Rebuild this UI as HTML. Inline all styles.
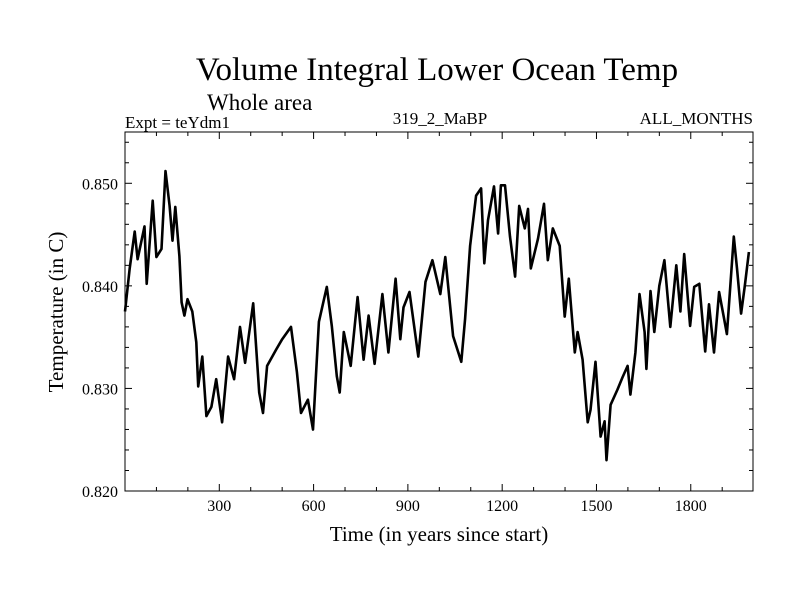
<!DOCTYPE html>
<html><head><meta charset="utf-8"><style>
body{margin:0;background:#fff;}
svg{display:block;font-family:"Liberation Serif",serif;}
</style></head><body>
<svg id="chart" width="800" height="600">
<text x="437" y="80" font-size="33" text-anchor="middle">Volume Integral Lower Ocean Temp</text>
<text x="207" y="110" font-size="23">Whole area</text>
<text x="125" y="128" font-size="17">Expt = teYdm1</text>
<text x="440" y="124" font-size="17" text-anchor="middle">319_2_MaBP</text>
<text x="753" y="124" font-size="17" text-anchor="end">ALL_MONTHS</text>
<text x="439" y="541" font-size="21" text-anchor="middle">Time (in years since start)</text>
<text transform="translate(63,312) rotate(-90)" font-size="21" text-anchor="middle">Temperature (in C)</text>
<g id="plot"></g>
</svg>
<script>
const years=[0,15,31,40,62,69,88,100,116,129,142,151,160,173,180,189,199,214,227,233,246,259,275,290,309,328,347,366,382,408,427,439,452,481,500,528,547,560,582,598,617,642,658,674,683,696,718,740,759,775,794,819,838,861,876,886,905,933,956,978,1003,1019,1044,1070,1082,1098,1117,1133,1143,1155,1174,1187,1196,1209,1225,1241,1254,1272,1282,1291,1314,1333,1345,1361,1383,1399,1412,1418,1431,1440,1456,1472,1481,1497,1513,1526,1532,1545,1567,1583,1599,1608,1624,1637,1653,1659,1672,1684,1700,1716,1735,1754,1767,1779,1798,1811,1827,1846,1858,1874,1890,1906,1915,1937,1947,1960,1972,1985];
const temps=[0.8375,0.8417,0.8453,0.8426,0.8458,0.8402,0.8483,0.8428,0.8436,0.8512,0.8478,0.8444,0.8477,0.8429,0.8384,0.8371,0.8387,0.8375,0.8345,0.8302,0.8331,0.8273,0.8282,0.8309,0.8267,0.8331,0.8309,0.8360,0.8325,0.8383,0.8296,0.8276,0.8322,0.8338,0.8348,0.8360,0.8316,0.8276,0.8289,0.8260,0.8365,0.8399,0.8361,0.8312,0.8296,0.8355,0.8322,0.8389,0.8328,0.8371,0.8324,0.8392,0.8335,0.8407,0.8348,0.8379,0.8394,0.8331,0.8404,0.8425,0.8392,0.8428,0.8351,0.8326,0.8368,0.8439,0.8488,0.8495,0.8422,0.8464,0.8497,0.8451,0.8498,0.8498,0.8448,0.8409,0.8478,0.8456,0.8475,0.8417,0.8446,0.8480,0.8425,0.8456,0.8439,0.8370,0.8407,0.8384,0.8335,0.8355,0.8328,0.8267,0.8279,0.8326,0.8253,0.8268,0.8230,0.8284,0.8299,0.8311,0.8322,0.8294,0.8335,0.8392,0.8355,0.8319,0.8395,0.8355,0.8400,0.8425,0.8360,0.8420,0.8375,0.8431,0.8361,0.8399,0.8402,0.8336,0.8382,0.8335,0.8394,0.8368,0.8353,0.8448,0.8417,0.8373,0.8400,0.8433];
const xTicks=[300,600,900,1200,1500,1800];
const xTickLabels=["300","600","900","1200","1500","1800"];
const yTicks=[0.820,0.830,0.840,0.850];
const yTickLabels=["0.820","0.830","0.840","0.850"];
const xMin=0,xMax=1998,yMin=0.820,yMax=0.855;
const L=125,R=753,T=132,B=491;
const sx=v=>L+(v-xMin)/(xMax-xMin)*(R-L);
const sy=v=>B-(v-yMin)/(yMax-yMin)*(B-T);
const NS="http://www.w3.org/2000/svg";
const g=document.getElementById('plot');
function mk(tag,attrs){const e=document.createElementNS(NS,tag);for(const k in attrs)e.setAttribute(k,attrs[k]);g.appendChild(e);return e;}
let d='';
years.forEach((y,i)=>{d+=(i?'L':'M')+sx(y).toFixed(1)+','+sy(temps[i]).toFixed(1);});
const line=mk('path',{d:d,fill:'none',stroke:'#000','stroke-width':2.6,'stroke-linejoin':'round'});


const frame=mk('rect',{x:L,y:T,width:R-L,height:B-T,fill:'none',stroke:'#000','stroke-width':1});


for(let v=100;v<xMax;v+=100){
  const major=v%300===0,len=major?7:4,x=sx(v);
  const t1=mk('line',{x1:x,x2:x,y1:B,y2:B-len,stroke:'#000'});
  
  
  const t2=mk('line',{x1:x,x2:x,y1:T,y2:T+len,stroke:'#000'});
  
  
}
for(let k=1;k<=17;k++){
  const v=yMin+k*0.002;if(v>yMax)break;
  const y=sy(v),major=(k%5===0),len=major?7:4;
  const t1=mk('line',{x1:L,x2:L+len,y1:y,y2:y,stroke:'#000'});
  
  
  const t2=mk('line',{x1:R,x2:R-len,y1:y,y2:y,stroke:'#000'});
  
  
}
xTicks.forEach((v,i)=>{
  const t=mk('text',{x:sx(v),y:B+20,'font-size':16,'text-anchor':'middle'});
  t.textContent=xTickLabels[i];
  
  
});
yTicks.forEach((v,i)=>{
  const t=mk('text',{x:L-7,y:sy(v)+6,'font-size':16,'text-anchor':'end'});
  t.textContent=yTickLabels[i];
  
  
});
</script>
</body></html>
